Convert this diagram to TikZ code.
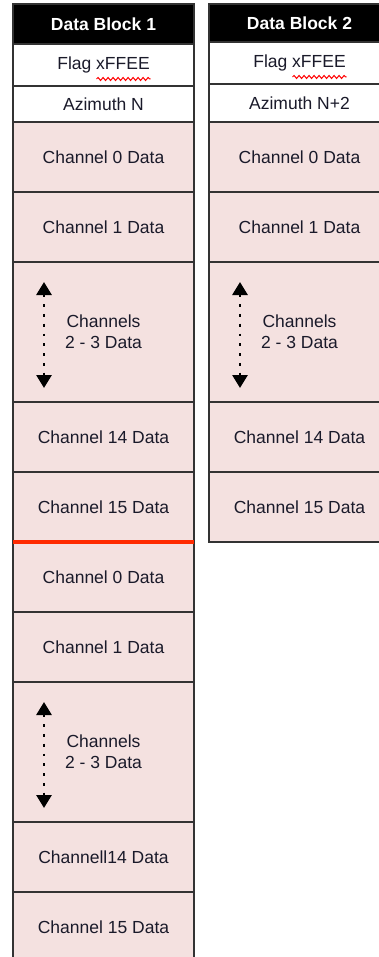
\documentclass[tikz,border=0pt]{standalone}
\usepackage{fontspec}
\setmainfont{Liberation Sans}
\usetikzlibrary{positioning,arrows.meta,decorations.pathmorphing}
\definecolor{cellpink}{HTML}{F4E1E0}
\definecolor{cellline}{HTML}{333333}
\definecolor{cellink}{HTML}{1A1A2A}
\definecolor{cutred}{HTML}{FF2A00}

\begin{document}
\begin{tikzpicture}[
  x=1pt, y=1pt,
  node distance=0pt,
  every node/.style = {draw=cellline, line width=1.8pt, outer sep=0pt,
    inner sep=0pt, minimum width=181pt, align=center,
    font=\fontsize{17.5}{21}\selectfont, text=cellink},
  head/.style = {fill=black, text=white,
    font=\fontsize{17.5}{21}\selectfont\bfseries, minimum height=#1},
  head/.default = 40pt,
  word/.style = {fill=white, minimum height=#1},
  data/.style = {fill=cellpink, minimum height=70pt},
  spanbox/.style = {fill=cellpink, minimum height=140pt},
  dots/.style = {line width=2.8pt, dash pattern=on 2.8pt off 7pt,
    {Triangle[width=15pt,length=13pt]}-{Triangle[width=15pt,length=13pt]}},
  squiggle/.style = {draw=red, line width=1pt, decorate,
    decoration={snake, amplitude=1.5pt, segment length=5pt}},
  cut/.style = {draw=cutred, line width=4pt}]
  \useasboundingbox (0,0) rectangle (378,-957);
  \node[head, anchor=north] (lhead) at (103.5,-4) {Data Block 1};
  \node[word=42pt, below=of lhead] (lflag) {Flag xFFEE};
  \node[word=36pt, below=of lflag] (lazim) {Azimuth N};
  \node[data, below=of lazim] (la0) {Channel 0 Data};
  \node[data, below=of la0] (la1) {Channel 1 Data};
  \node[spanbox, below=of la1] (lamid) {Channels\\2 - 3 Data};
  \node[data, below=of lamid] (la14) {Channel 14 Data};
  \node[data, below=of la14] (la15) {Channel 15 Data};
  \node[data, below=of la15] (lb0) {Channel 0 Data};
  \node[data, below=of lb0] (lb1) {Channel 1 Data};
  \node[spanbox, below=of lb1] (lbmid) {Channels\\2 - 3 Data};
  \node[data, below=of lbmid] (lb14) {Channell14 Data};
  \node[data, below=of lb14] (lb15) {Channel 15 Data};

  \node[head=38pt, anchor=north] (rhead) at (299.5,-4) {Data Block 2};
  \node[word=42pt, below=of rhead] (rflag) {Flag xFFEE};
  \node[word=38pt, below=of rflag] (razim) {Azimuth N+2};
  \node[data, below=of razim] (ra0) {Channel 0 Data};
  \node[data, below=of ra0] (ra1) {Channel 1 Data};
  \node[spanbox, below=of ra1] (ramid) {Channels\\2 - 3 Data};
  \node[data, below=of ramid] (ra14) {Channel 14 Data};
  \node[data, below=of ra14] (ra15) {Channel 15 Data};

  \draw[cut] (la15.south west) -- (la15.south east);
  \foreach \blk in {lamid, lbmid, ramid}
    \draw[dots] ([shift={(31,-20)}]\blk.north west)
      -- ([shift={(31,14)}]\blk.south west);
  \foreach \flg in {lflag, rflag}
    \draw[squiggle] ([shift={(-7,-14)}]\flg.center)
      -- ([shift={(47,-14)}]\flg.center);
\end{tikzpicture}
\end{document}
